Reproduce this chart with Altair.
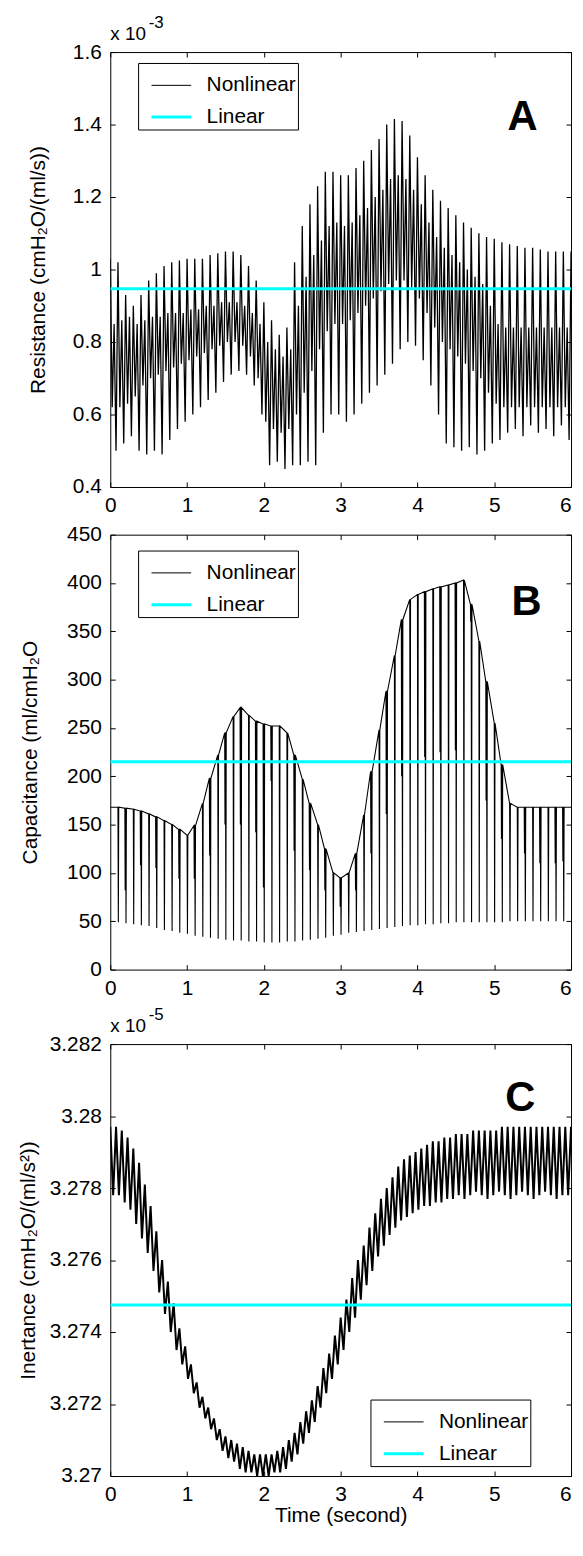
import altair as alt
import pandas as pd

FONT = "Liberation Sans"
TICK = 5
W = 464

SERIES = ["Nonlinear", "Linear"]
SERIES_COLORS = ["#000000", "#00ffff"]
SERIES_WIDTHS = [1, 3]

X_TICKS = [0, 1, 2, 3, 4, 5, 6]
A_TICKS = [0.4, 0.6, 0.8, 1.0, 1.2, 1.4, 1.6]
B_TICKS = [0, 50, 100, 150, 200, 250, 300, 350, 400, 450]
C_TICKS = [3.27, 3.272, 3.274, 3.276, 3.278, 3.28, 3.282]

# time grid of the readings (0.0 ... 6.0 s every 0.1 s)
T10 = [round(0.1 * k, 2) for k in range(61)]

# ---- Panel A: resistance (x 1e-3), four readings per 0.1 s cycle ----
A_PEAK1 = [1.03, 1.02, 0.93, 0.90, 0.93, 0.97, 0.99, 1.01, 1.02, 1.025,
           1.03, 1.03, 1.03, 1.04, 1.045, 1.05, 1.05, 1.04, 1.01, 0.97,
           0.91, 0.86, 0.82, 0.84, 1.02, 1.12, 1.18, 1.23, 1.27, 1.27,
           1.26, 1.26, 1.28, 1.30, 1.33, 1.36, 1.40, 1.415, 1.41, 1.37,
           1.31, 1.26, 1.22, 1.19, 1.17, 1.15, 1.13, 1.115, 1.10, 1.09,
           1.085, 1.075, 1.07, 1.065, 1.06, 1.06, 1.055, 1.05, 1.05, 1.05,
           1.05]
A_TROUGH1 = [0.62, 0.62, 0.63, 0.65, 0.68, 0.70, 0.71, 0.72, 0.73, 0.74,
             0.75, 0.76, 0.77, 0.78, 0.79, 0.80, 0.80, 0.79, 0.76, 0.70,
             0.58, 0.56, 0.55, 0.56, 0.60, 0.66, 0.72, 0.78, 0.83, 0.85,
             0.85, 0.86, 0.88, 0.90, 0.92, 0.94, 0.96, 0.97, 0.97, 0.95,
             0.92, 0.88, 0.84, 0.80, 0.78, 0.76, 0.74, 0.72, 0.70, 0.66,
             0.63, 0.62, 0.62, 0.62, 0.62, 0.62, 0.62, 0.62, 0.62, 0.62,
             0.62]
A_PEAK2 = [0.85, 0.86, 0.87, 0.85, 0.86, 0.87, 0.87, 0.88, 0.88, 0.88,
           0.89, 0.89, 0.90, 0.90, 0.91, 0.91, 0.91, 0.90, 0.88, 0.85,
           0.80, 0.78, 0.76, 0.78, 0.90, 0.98, 1.04, 1.08, 1.12, 1.13,
           1.12, 1.13, 1.15, 1.17, 1.20, 1.22, 1.25, 1.26, 1.25, 1.22,
           1.18, 1.13, 1.09, 1.06, 1.04, 1.02, 1.00, 0.98, 0.96, 0.90,
           0.85, 0.84, 0.84, 0.84, 0.84, 0.84, 0.84, 0.84, 0.84, 0.84,
           0.84]
A_TROUGH2 = [0.50, 0.52, 0.54, 0.50, 0.49, 0.50, 0.49, 0.53, 0.56, 0.58,
             0.60, 0.62, 0.64, 0.66, 0.69, 0.71, 0.72, 0.71, 0.68, 0.60,
             0.46, 0.47, 0.45, 0.46, 0.46, 0.47, 0.46, 0.55, 0.60, 0.60,
             0.58, 0.60, 0.63, 0.66, 0.68, 0.71, 0.74, 0.78, 0.80, 0.79,
             0.75, 0.68, 0.60, 0.52, 0.51, 0.50, 0.51, 0.49, 0.50, 0.52,
             0.53, 0.55, 0.56, 0.54, 0.57, 0.55, 0.56, 0.54, 0.57, 0.53,
             0.55]
A_LINEAR = 0.947

# ---- Panel B: capacitance, envelope top, spike bottom, extra notches ----
B_TOP = [168, 168, 167, 166, 164, 161, 158, 154, 150, 145,
         139, 149, 172, 198, 222, 245, 262, 271, 263, 257,
         254, 252, 252, 245, 222, 197, 172, 150, 125, 100,
         95, 100, 120, 160, 205, 248, 288, 325, 362, 383,
         388, 391, 394, 396, 398, 400, 403, 378, 340, 298,
         255, 212, 172, 168, 168, 168, 168, 168, 168, 168,
         168]
B_BOT = [50, 49, 48, 47, 46, 45, 43, 41, 40, 38,
         37, 35, 34, 33, 32, 31, 30, 30, 29, 29,
         28, 28, 28, 29, 29, 30, 31, 32, 33, 35,
         36, 38, 39, 40, 41, 42, 43, 44, 45, 46,
         46, 47, 47, 48, 48, 49, 49, 49, 49, 49,
         49, 49, 50, 50, 50, 50, 50, 50, 50, 50,
         50]
B_NOTCH = [None, None, 82, None, 108, None, 105, None, None, 94,
           None, 94, None, 118, None, 150, None, 150, None, 142,
           85, 195, None, None, 123, None, 103, None, 82, None,
           65, None, 82, None, 120, None, 161, None, 200, None,
           None, 220, None, 225, None, 227, None, 360, None, 175,
           None, 135, None, None, 120, None, 110, None, 110, 112,
           None]
B_LINEAR = 215

# ---- Panel C: inertance (x 1e-5), peaks every 0.075 s, troughs between ----
C_UP = [3.2797, 3.2797, 3.2796, 3.2794, 3.2791, 3.2787, 3.2781, 3.2775, 3.2768, 3.2760,
        3.2754, 3.2748, 3.2741, 3.2736, 3.2731, 3.2726, 3.2722, 3.2719, 3.2716, 3.2713,
        3.2711, 3.2710, 3.2709, 3.2708, 3.2707, 3.2706, 3.2706, 3.2706, 3.2706, 3.2707,
        3.2708, 3.2710, 3.2712, 3.2715, 3.2718, 3.2721, 3.2725, 3.2730, 3.2734, 3.2739,
        3.2744, 3.2749, 3.2755, 3.2760, 3.2764, 3.2769, 3.2773, 3.2777, 3.2780, 3.2783,
        3.2786, 3.2788, 3.2789, 3.2790, 3.2791, 3.2792, 3.2793, 3.2793, 3.2794, 3.2794,
        3.2795, 3.2795, 3.2795, 3.2796, 3.2796, 3.2796, 3.2796, 3.2796, 3.2797, 3.2797,
        3.2797, 3.2797, 3.2797, 3.2797, 3.2797, 3.2797, 3.2797, 3.2797, 3.2797, 3.2797,
        3.2797]
C_LO = [3.2778, 3.2778, 3.2776, 3.2774, 3.2770, 3.2766, 3.2762, 3.2757, 3.2751, 3.2745,
        3.2740, 3.2735, 3.2731, 3.2727, 3.2723, 3.2719, 3.2716, 3.2713, 3.2710, 3.2707,
        3.2705, 3.2704, 3.2702, 3.2701, 3.2701, 3.2700, 3.2700, 3.2700, 3.2701, 3.2701,
        3.2702, 3.2704, 3.2706, 3.2709, 3.2712, 3.2715, 3.2719, 3.2723, 3.2727, 3.2731,
        3.2735, 3.2740, 3.2744, 3.2749, 3.2753, 3.2757, 3.2761, 3.2764, 3.2767, 3.2769,
        3.2771, 3.2772, 3.2773, 3.2774, 3.2775, 3.2775, 3.2776, 3.2776, 3.2777, 3.2777,
        3.2778, 3.2777, 3.2778, 3.2779, 3.2778, 3.2777, 3.2778, 3.2779, 3.2778, 3.2777,
        3.2778, 3.2779, 3.2778, 3.2777, 3.2778, 3.2779, 3.2778, 3.2777, 3.2778, 3.2778]
C_PERIOD = 0.075
C_LINEAR = 3.27475

LETTERS = ["A", "B", "C"]
MULTIPLIER = ["x 10", "x 10", "x 10"]
EXPONENTS = ["-3", None, "-5"]


def frame(rows):
    df = pd.DataFrame(rows, columns=["t", "v"])
    df = df[(df.t >= 0) & (df.t <= 6.0)].reset_index(drop=True)
    df["i"] = range(len(df))
    df["series"] = "Nonlinear"
    return df


rows = []
for k, t in enumerate(T10):
    for dt, arr in ((0.0, A_PEAK1), (0.025, A_TROUGH1), (0.05, A_PEAK2), (0.075, A_TROUGH2)):
        rows.append((round(t + dt, 4), arr[k]))
df_a = frame(rows)

rows = []
for k, t in enumerate(T10):
    if 0 < k < 60:
        if B_NOTCH[k] is not None:
            rows += [(round(t - 0.010, 4), B_TOP[k]), (round(t - 0.006, 4), B_NOTCH[k]),
                     (round(t - 0.002, 4), B_TOP[k])]
        rows += [(t, B_TOP[k]), (round(t + 0.005, 4), B_BOT[k]), (round(t + 0.010, 4), B_TOP[k])]
    else:
        rows.append((t, B_TOP[k]))
df_b = frame(rows)

rows = []
for i, up in enumerate(C_UP):
    rows.append((round(i * C_PERIOD, 4), up))
    if i < len(C_LO):
        rows.append((round(i * C_PERIOD + C_PERIOD / 2, 4), C_LO[i]))
df_c = frame(rows)


def lin_df(v):
    return pd.DataFrame({"t": [0, 6], "v": [v, v], "series": ["Linear", "Linear"], "i": [0, 1]})


def legend(x, y):
    return alt.Legend(orient="none", legendX=x, legendY=y, direction="vertical", title=None,
                      strokeColor="black", fillColor="white", padding=2,
                      symbolType="stroke", symbolSize=1600, symbolOffset=10,
                      labelFont=FONT, labelFontSize=21, labelColor="black", labelOffset=14,
                      rowPadding=-14, labelLimit=400)


AX_TEXT = dict(labelFont=FONT, labelFontSize=21, labelColor="black",
               titleFont=FONT, titleFontSize=21, titleFontWeight="normal", titleColor="black")


def panel(nl_df, lin_v, idx, ydom, yticks, yfmt, ytitle, ytpad, leg_x, leg_y, xtitle,
          nl_width, height, letter_pos):
    xs = alt.Scale(domain=[0, 6], nice=False, zero=False)
    ys = alt.Scale(domain=ydom, nice=False, zero=False)
    span = ydom[1] - ydom[0]
    common = dict(domain=False, grid=False, tickSize=TICK, offset=-TICK, tickColor="black",
                  tickWidth=1, labelFlush=False, labelOverlap=False, **AX_TEXT)
    xax = alt.Axis(orient="bottom", values=X_TICKS, format="d", labelPadding=8,
                   labelAlign=alt.condition("datum.value == 6", alt.value("right"), alt.value("center")),
                   title=xtitle, titlePadding=0, **common)
    yax = alt.Axis(orient="left", values=yticks, format=yfmt, labelPadding=9,
                   title=ytitle, titlePadding=ytpad, **common)
    xtop = alt.Axis(orient="top", values=X_TICKS, labels=False, title=None, **common)
    yright = alt.Axis(orient="right", values=yticks, labels=False, title=None, **common)
    col = alt.Color("series:N", scale=alt.Scale(domain=SERIES, range=SERIES_COLORS),
                    legend=legend(leg_x, leg_y))
    sw = alt.StrokeWidth("series:N", scale=alt.Scale(type="point", domain=SERIES,
                                                     range=SERIES_WIDTHS, padding=0),
                         legend=legend(leg_x, leg_y))
    ldf = lin_df(lin_v)
    X = lambda ax=None: alt.X("t:Q", scale=xs, axis=ax)
    Y = lambda ax=None: alt.Y("v:Q", scale=ys, axis=ax)
    nl = alt.Chart(nl_df).mark_line(clip=True, strokeWidth=nl_width).encode(
        x=X(xax), y=Y(yax), color=col, order="i:Q")
    lin = alt.Chart(ldf).mark_line(clip=True).encode(
        x=X(), y=Y(), color=col, strokeWidth=sw, order="i:Q")
    tdf = pd.DataFrame({"t": [letter_pos[0]], "v": [letter_pos[1]], "label": [LETTERS[idx]]})
    txt = alt.Chart(tdf).mark_text(font=FONT, fontSize=42, fontWeight="bold", color="black",
                                   align="center", baseline="middle").encode(
        x=X(), y=Y(), text="label:N")
    fr = alt.Chart(ldf).mark_point(opacity=0).encode(x=X(xtop), y=Y(yright))
    layers = [nl, lin, txt, fr]
    if EXPONENTS[idx]:
        # "x 10" about 12 px above the frame, exponent raised above it (data coordinates)
        mdf = pd.DataFrame({"t": [0.0], "v": [ydom[1] + span * 12.0 / height],
                            "label": [MULTIPLIER[idx]]})
        edf = pd.DataFrame({"t": [0.5], "v": [ydom[1] + span * 24.0 / height],
                            "label": [EXPONENTS[idx]]})
        layers.append(alt.Chart(mdf).mark_text(font=FONT, fontSize=19, color="black", align="left",
                                               baseline="alphabetic").encode(x=X(), y=Y(), text="label:N"))
        layers.append(alt.Chart(edf).mark_text(font=FONT, fontSize=17, color="black", align="left",
                                               baseline="alphabetic").encode(x=X(), y=Y(), text="label:N"))
    return alt.layer(*layers).resolve_axis(x="independent", y="independent").properties(
        width=W, height=height)


pA = panel(df_a, A_LINEAR, 0, [0.4, 1.6], A_TICKS, "~g", "Resistance (cmH₂O/(ml/s))", 24,
           28, 11, None, 1.3, 438, (5.37, 1.42))
pB = panel(df_b, B_LINEAR, 1, [0, 450], B_TICKS, "d", "Capacitance (ml/cmH₂O", 26,
           28, 16, None, 1.1, 438, (5.42, 380))
pC = panel(df_c, C_LINEAR, 2, [3.27, 3.282], C_TICKS, ".4~f", "Inertance (cmH₂O/(ml/s²))", 11,
           262, 358, "Time (second)", 2.0, 435, (5.34, 3.2805))

chart = alt.vconcat(pA, pB, pC, spacing=6).resolve_scale(
    color="independent", strokeWidth="independent"
).resolve_legend(color="independent", strokeWidth="independent").properties(
    padding={"left": 8, "top": 0, "right": 0, "bottom": 0}
).configure_view(stroke="black", strokeWidth=1)

chart.save("out.html", embed_options={"renderer": "svg", "actions": False})
